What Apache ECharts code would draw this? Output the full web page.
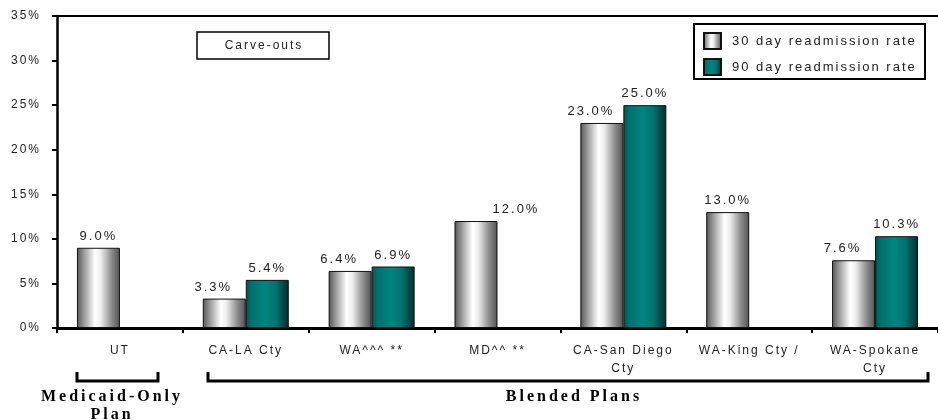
<!DOCTYPE html>
<html>
<head>
<meta charset="utf-8">
<script src="https://cdn.jsdelivr.net/npm/echarts@6/dist/echarts.min.js"></script>
<style>
html,body{margin:0;padding:0;background:#fff;}
#chart{width:938px;height:420px;}
</style>
</head>
<body>
<div id="chart"></div>
<script>
// ---- data ----
const categories = ['UT', 'CA-LA Cty', 'WA^^^ **', 'MD^^ **', 'CA-San Diego\nCty', 'WA-King Cty /', 'WA-Spokane\nCty'];
const seriesNames = ['30 day readmission rate', '90 day readmission rate'];
const rate30 = [9.0, 3.3, 6.4, 12.0, 23.0, 13.0, 7.6];
const rate90 = [null, 5.4, 6.9, null, 25.0, null, 10.3];
const yTicks = [0, 5, 10, 15, 20, 25, 30, 35];
const groupLabels = ['Medicaid-Only\nPlan', 'Blended Plans'];
const noteText = 'Carve-outs';

// letter spacing like the original typesetting
(function () {
  const P = CanvasRenderingContext2D.prototype;
  const of = P.fillText;
  P.fillText = function () {
    const f = this.font || '';
    this.letterSpacing = /Serif/.test(f) ? '3px' : '2px';
    return of.apply(this, arguments);
  };
})();

const SANS = '"Liberation Sans", Arial, sans-serif';
const SERIF = '"Liberation Serif", "Times New Roman", serif';

const chart = echarts.init(document.getElementById('chart'), null, { renderer: 'canvas' });

const grad30 = new echarts.graphic.LinearGradient(0, 0, 1, 0, [
  { offset: 0, color: '#555555' },
  { offset: 0.18, color: '#a0a0a0' },
  { offset: 0.42, color: '#ffffff' },
  { offset: 0.55, color: '#eeeeee' },
  { offset: 0.8, color: '#8e8e8e' },
  { offset: 1, color: '#505050' }
]);
const grad90 = new echarts.graphic.LinearGradient(0, 0, 1, 0, [
  { offset: 0, color: '#0a4d4b' },
  { offset: 0.12, color: '#00706d' },
  { offset: 0.45, color: '#008580' },
  { offset: 0.7, color: '#00736f' },
  { offset: 1, color: '#002c2b' }
]);

function labelShift30(i) {
  // nudges in the original layout
  if (i === 3) return 40;
  return rate90[i] != null ? -11 : 0;
}

const labelFmt = p => p.value == null ? '' : p.value.toFixed(1) + '%';

chart.setOption({
  animation: false,
  backgroundColor: '#fff',
  grid: { left: 57, right: 0, top: 16, bottom: 92, containLabel: false },
  legend: {
    data: seriesNames,
    orient: 'vertical',
    left: 703, top: 32,
    padding: 0,
    itemGap: 8,
    itemWidth: 17, itemHeight: 16,
    icon: 'rect',
    textStyle: { fontFamily: SANS, fontSize: 13, color: '#222', padding: [0, 0, 0, 6] },
    selectedMode: false
  },
  xAxis: [{
    type: 'category',
    data: categories,
    boundaryGap: true,
    axisLine: { lineStyle: { color: '#000', width: 3 } },
    axisTick: { show: true, length: 5, lineStyle: { color: '#000', width: 2 } },
    axisLabel: { interval: 0, margin: 14, fontFamily: SANS, fontSize: 12, lineHeight: 18, color: '#222' }
  }, {
    type: 'category',
    data: categories,
    position: 'top',
    axisLine: { lineStyle: { color: '#000', width: 2 } },
    axisTick: { show: false },
    axisLabel: { show: false }
  }],
  yAxis: {
    type: 'value',
    min: yTicks[0], max: yTicks[yTicks.length - 1], interval: 5,
    splitLine: { show: false },
    axisLine: { show: true, lineStyle: { color: '#000', width: 2.5 } },
    axisTick: { show: true, length: 5, lineStyle: { color: '#000', width: 2 } },
    axisLabel: { formatter: '{value}%', margin: 16, fontFamily: SANS, fontSize: 12, color: '#222' }
  },
  series: [{
    name: seriesNames[0],
    type: 'bar',
    barWidth: 43,
    barGap: '0%',
    data: rate30.map((v, i) => ({ value: v, label: { offset: [labelShift30(i), 0] } })),
    itemStyle: { color: grad30, borderColor: '#111', borderWidth: 1 },
    label: { show: true, position: 'top', distance: 5, formatter: labelFmt, fontFamily: SANS, fontSize: 13, color: '#222' }
  }, {
    name: seriesNames[1],
    type: 'bar',
    barWidth: 43,
    barGap: '0%',
    data: rate90,
    itemStyle: { color: grad90, borderColor: '#111', borderWidth: 1 },
    label: { show: true, position: 'top', distance: 5, formatter: labelFmt, fontFamily: SANS, fontSize: 13, color: '#222' }
  }],
  graphic: [
    { type: 'rect', shape: { x: 694, y: 24, width: 231, height: 55 }, style: { fill: 'none', stroke: '#000', lineWidth: 2 }, z: 10 },
    { type: 'rect', shape: { x: 197, y: 32, width: 132, height: 27 }, style: { fill: '#fff', stroke: '#000', lineWidth: 1.5 }, z: 10 },
    { type: 'text', x: 264, y: 46, style: { text: noteText, font: '12px ' + SANS, fill: '#222', textAlign: 'center', textVerticalAlign: 'middle' }, z: 11 },
    { type: 'polyline', shape: { points: [[77, 372], [77, 381], [158, 381], [158, 372]] }, style: { fill: 'none', stroke: '#000', lineWidth: 3 } },
    { type: 'polyline', shape: { points: [[208, 372], [208, 381], [928, 381], [928, 372]] }, style: { fill: 'none', stroke: '#000', lineWidth: 3 } },
    { type: 'text', x: 112, y: 397, style: { text: groupLabels[0].split('\n')[0], font: 'bold 16px ' + SERIF, fill: '#000', textAlign: 'center', textVerticalAlign: 'middle' } },
    { type: 'text', x: 112, y: 415, style: { text: groupLabels[0].split('\n')[1], font: 'bold 16px ' + SERIF, fill: '#000', textAlign: 'center', textVerticalAlign: 'middle' } },
    { type: 'text', x: 574, y: 397, style: { text: groupLabels[1], font: 'bold 16px ' + SERIF, fill: '#000', textAlign: 'center', textVerticalAlign: 'middle' } }
  ]
});
</script>
</body>
</html>
